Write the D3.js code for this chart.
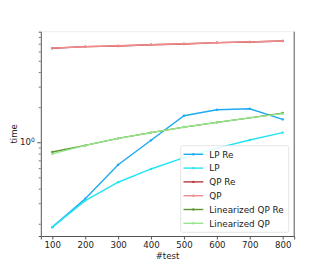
<!DOCTYPE html>
<html>
<head>
<meta charset="utf-8">
<script src="https://cdn.jsdelivr.net/npm/d3@7"></script>
<style>
  body { margin: 0; background: #fff; }
  text { font-family: "DejaVu Sans", sans-serif; }
</style>
</head>
<body>
<div id="chart"></div>
<script>
// values
const tests = [100, 200, 300, 400, 500, 600, 700, 800];
const lpRe = [0.187, 0.328, 0.642, 1.04, 1.69, 1.90, 1.94, 1.57];
const lp = [0.187, 0.316, 0.454, 0.590, 0.738, 0.89, 1.046, 1.21];
const qpRe = [6.40, 6.61, 6.70, 6.87, 6.97, 7.15, 7.25, 7.39];
const qp = [6.42, 6.60, 6.72, 6.86, 6.99, 7.14, 7.27, 7.38];
const linQpRe = [0.826, 0.94, 1.08, 1.21, 1.35, 1.48, 1.62, 1.78];
const linQp = [0.794, 0.94, 1.08, 1.21, 1.35, 1.48, 1.62, 1.76];

const seriesNames = ["LP Re", "LP", "QP Re", "QP", "Linearized QP Re", "Linearized QP"];
const seriesValues = [lpRe, lp, qpRe, qp, linQpRe, linQp];
const seriesColors = ["#1eaaf0", "#22e4f2", "#b8383a", "#f08c8c", "#5c9632", "#96e68c"];

const xTicks = [100, 200, 300, 400, 500, 600, 700, 800];
const yMinor = [0.2, 0.3, 0.4, 0.5, 0.6, 0.7, 0.8, 0.9, 2, 3, 4, 5, 6, 7, 8];

const W = 327, H = 266;
const pLeft = 40.8, pRight = 294.2, pTop = 31.7, pBottom = 236;

const svg = d3.select("#chart").append("svg")
    .attr("width", W)
    .attr("height", H);

const x = d3.scaleLinear().domain([65, 835]).range([pLeft, pRight]);
const y = d3.scaleLog().domain([0.157, 8.88]).range([pBottom, pTop]);

// frame
svg.append("line").attr("x1", pLeft).attr("x2", pRight).attr("y1", pTop).attr("y2", pTop)
    .attr("stroke", "#eeeeee");
svg.append("line").attr("x1", pRight).attr("x2", pRight).attr("y1", pTop).attr("y2", pBottom)
    .attr("stroke", "#555");

// x axis
const xAxis = svg.append("g")
    .attr("transform", `translate(0,${pBottom})`)
    .call(d3.axisBottom(x).tickValues(xTicks).tickSize(3.5).tickPadding(2.5));
xAxis.select(".domain").attr("stroke", "#555");
xAxis.selectAll(".tick line").attr("stroke", "#555");
xAxis.selectAll("text").attr("font-size", 8.6).attr("fill", "#222")
    .attr("font-family", "DejaVu Sans");

// y axis, minor ticks
const yAxisMinor = svg.append("g")
    .attr("transform", `translate(${pLeft},0)`)
    .call(d3.axisLeft(y).tickValues(yMinor).tickSize(2).tickFormat(""));
yAxisMinor.select(".domain").attr("stroke", "#555");
yAxisMinor.selectAll(".tick line").attr("stroke", "#777");

// y axis, major tick at 10^0
const yAxisMajor = svg.append("g")
    .attr("transform", `translate(${pLeft},0)`)
    .call(d3.axisLeft(y).tickValues([1]).tickSize(3.5).tickFormat(""));
yAxisMajor.select(".domain").remove();
yAxisMajor.selectAll(".tick line").attr("stroke", "#555");
const lab = svg.append("text")
    .attr("x", pLeft - 6)
    .attr("y", y(1) + 3)
    .attr("text-anchor", "end")
    .attr("font-size", 8.6)
    .attr("fill", "#222");
lab.append("tspan").text("10");
lab.append("tspan").attr("dy", -3.5).attr("font-size", 6).text("0");

// axis titles
svg.append("text")
    .attr("x", (pLeft + pRight) / 2)
    .attr("y", 259)
    .attr("text-anchor", "middle")
    .attr("font-size", 8.6)
    .attr("fill", "#222")
    .text("#test");
svg.append("text")
    .attr("transform", `translate(16.5,${(pTop + pBottom) / 2}) rotate(-90)`)
    .attr("text-anchor", "middle")
    .attr("font-size", 8.6)
    .attr("fill", "#222")
    .text("time");

// lines
const line = d3.line()
    .x((d, i) => x(tests[i]))
    .y(d => y(d));

seriesValues.forEach((vals, k) => {
    const g = svg.append("g");
    g.append("path")
        .datum(vals)
        .attr("d", line)
        .attr("fill", "none")
        .attr("stroke", seriesColors[k])
        .attr("stroke-width", 1.4);
    g.selectAll("circle")
        .data(vals)
        .enter().append("circle")
            .attr("cx", (d, i) => x(tests[i]))
            .attr("cy", d => y(d))
            .attr("r", 1.2)
            .attr("fill", seriesColors[k]);
});

// legend
const legend = svg.append("g");
legend.append("rect")
    .attr("x", 180.7).attr("y", 145.7)
    .attr("width", 108).attr("height", 86.6)
    .attr("rx", 2)
    .attr("fill", "#fff").attr("fill-opacity", 0.85)
    .attr("stroke", "#dddddd").attr("stroke-width", 0.8);

seriesNames.forEach((name, k) => {
    const ly = 154.3 + k * 13.8;
    legend.append("line")
        .attr("x1", 183.5).attr("x2", 203.3)
        .attr("y1", ly).attr("y2", ly)
        .attr("stroke", seriesColors[k]).attr("stroke-width", 1.4);
    legend.append("circle")
        .attr("cx", 193.4).attr("cy", ly).attr("r", 1.2)
        .attr("fill", seriesColors[k]);
    legend.append("text")
        .attr("x", 209.3).attr("y", ly + 3.2)
        .attr("font-size", 8.8)
        .attr("fill", "#222")
        .text(name);
});
</script>
</body>
</html>
